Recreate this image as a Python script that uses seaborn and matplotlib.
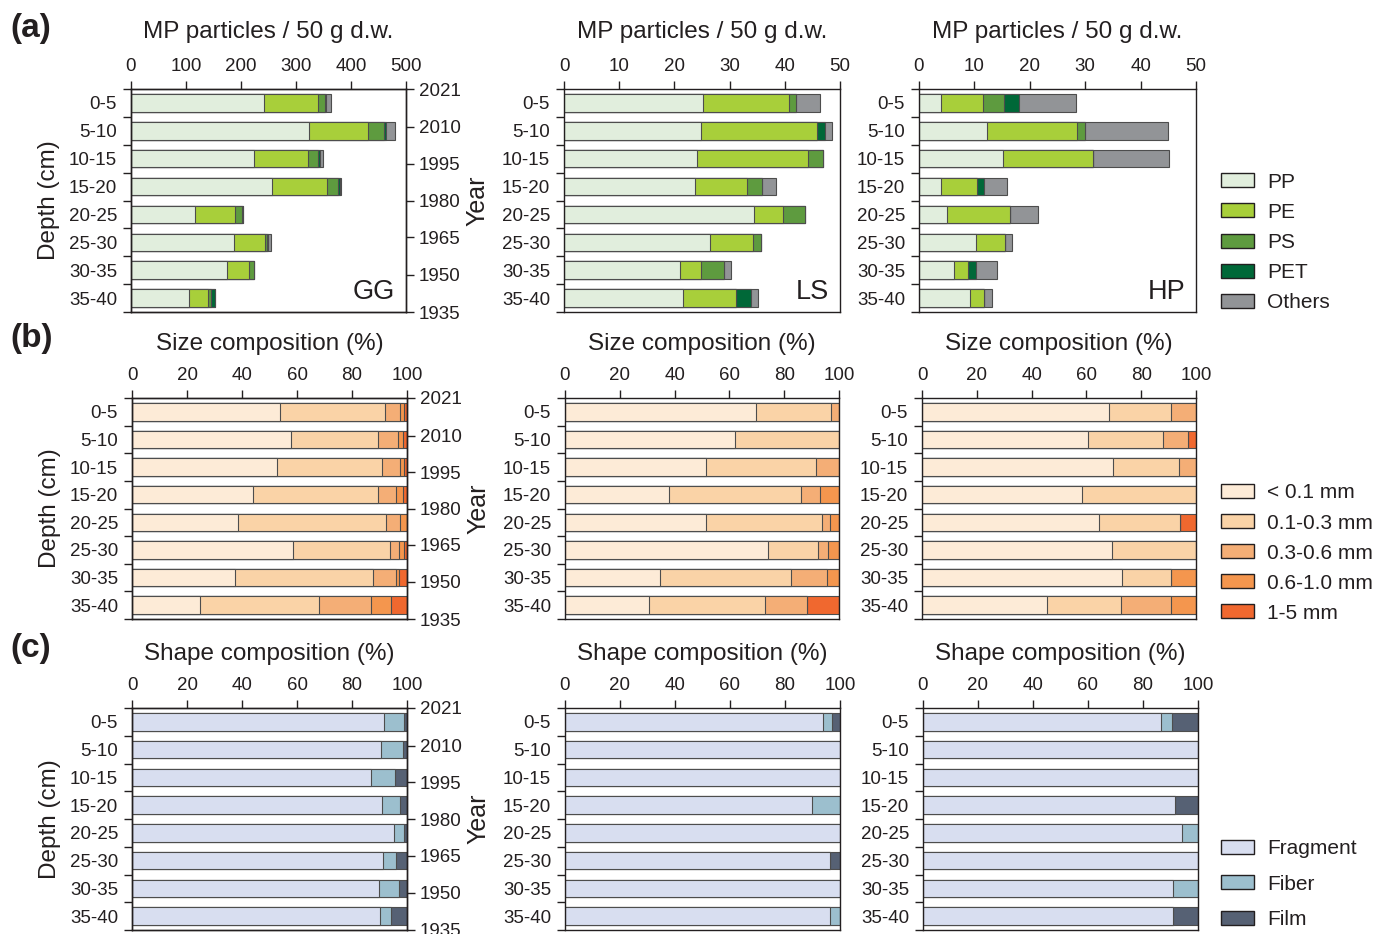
import numpy as np
import pandas as pd
import matplotlib
matplotlib.use("Agg")
import matplotlib.pyplot as plt
import seaborn as sns
from matplotlib.patches import Patch

sns.set_style("ticks")
plt.rcParams['font.family'] = ['Liberation Sans', 'DejaVu Sans']
ink = '#231f20'
plt.rcParams['text.color'] = ink
plt.rcParams['axes.labelcolor'] = ink
plt.rcParams['xtick.color'] = ink
plt.rcParams['ytick.color'] = ink
plt.rcParams['axes.edgecolor'] = ink

# ---- data ----
depths = ["0-5", "5-10", "10-15", "15-20", "20-25", "25-30", "30-35", "35-40"]
sites = ["GG", "LS", "HP"]

# dating of the core (year at depth in cm)
year_labels = [2021, 2010, 1995, 1980, 1965, 1950, 1935]
year_depth_cm = [0, 6.8, 13.4, 20.0, 26.6, 33.3, 40.0]

polymers = ["PP", "PE", "PS", "PET", "Others"]
polymer_colors = ["#e1eedd", "#a8cf3a", "#5e9b3f", "#006838", "#929497"]

# MP particles / 50 g d.w., rows: PP, PE, PS, PET, Others
gg_polymer = [
    [241, 324, 223, 257, 117, 187, 174, 106],
    [99, 107, 98, 100, 72, 57, 40, 34],
    [13, 29, 19, 20, 12, 4, 9, 6],
    [2, 3, 3, 3, 2, 1, 0, 7],
    [9, 17, 6, 2, 0, 5, 0, 0],
]
ls_polymer = [
    [25.2, 24.8, 24.1, 23.8, 34.4, 26.4, 21.0, 21.6],
    [15.5, 21.1, 20.1, 9.4, 5.2, 7.8, 3.9, 9.5],
    [1.3, 0, 2.7, 2.6, 4.0, 1.4, 4.0, 0],
    [0, 1.3, 0, 0, 0, 0, 0, 2.7],
    [4.3, 1.3, 0, 2.6, 0, 0, 1.3, 1.4],
]
hp_polymer = [
    [3.9, 12.3, 15.1, 3.9, 5.0, 10.3, 6.4, 9.2],
    [7.7, 16.3, 16.3, 6.6, 11.4, 5.2, 2.5, 2.6],
    [3.8, 1.3, 0, 0, 0, 0, 0, 0],
    [2.6, 0, 0, 1.3, 0, 0, 1.3, 0],
    [10.3, 15.0, 13.8, 4.0, 5.0, 1.3, 3.9, 1.4],
]

sizes = ["< 0.1 mm", "0.1-0.3 mm", "0.3-0.6 mm", "0.6-1.0 mm", "1-5 mm"]
size_colors = ["#fdebd7", "#fad3a7", "#f4ae76", "#f4964e", "#f0682f"]

gg_size = [
    [53.8, 57.8, 52.8, 44.1, 38.7, 58.6, 37.5, 24.6],
    [38.3, 31.5, 38.2, 45.3, 53.8, 35.3, 50.0, 43.5],
    [5.5, 7.3, 6.6, 6.6, 5.0, 3.1, 8.4, 18.7],
    [1.2, 1.8, 1.2, 2.7, 2.5, 1.9, 1.1, 7.4],
    [1.2, 1.6, 1.2, 1.3, 0, 1.1, 3.0, 5.8],
]
ls_size = [
    [69.7, 62.2, 51.5, 37.8, 51.5, 74.0, 34.6, 30.7],
    [27.3, 37.8, 40.0, 48.3, 42.3, 18.3, 47.9, 42.3],
    [3.0, 0, 8.5, 7.0, 2.9, 3.8, 13.2, 15.5],
    [0, 0, 0, 6.9, 3.3, 3.9, 4.3, 0],
    [0, 0, 0, 0, 0, 0, 0, 11.5],
]
hp_size = [
    [68.2, 60.6, 69.7, 58.3, 64.7, 69.2, 72.9, 45.5],
    [22.8, 27.2, 24.2, 41.7, 29.6, 30.8, 18.1, 27.2],
    [9.0, 9.4, 6.1, 0, 0, 0, 0, 18.3],
    [0, 0, 0, 0, 0, 0, 9.0, 9.0],
    [0, 2.8, 0, 0, 5.7, 0, 0, 0],
]

shapes = ["Fragment", "Fiber", "Film"]
shape_colors = ["#d8def0", "#9cbfce", "#566174"]

gg_shape = [
    [91.6, 90.7, 86.8, 91.0, 95.3, 91.1, 89.8, 90.0],
    [7.2, 7.8, 9.0, 6.6, 3.5, 5.0, 7.2, 4.3],
    [1.2, 1.5, 4.2, 2.4, 1.2, 3.9, 3.0, 5.7],
]
ls_shape = [
    [93.9, 100, 100, 89.9, 100, 96.4, 100, 96.4],
    [3.2, 0, 0, 10.1, 0, 0, 0, 3.6],
    [2.9, 0, 0, 0, 0, 3.6, 0, 0],
]
hp_shape = [
    [86.4, 100, 100, 91.5, 94.1, 100, 90.8, 90.8],
    [4.3, 0, 0, 0, 5.9, 0, 9.2, 0],
    [9.3, 0, 0, 8.5, 0, 0, 0, 9.2],
]

# ---- layout (pixels in a 1375x934 canvas) ----
W, H = 1375, 934
row_y = [(89, 312), (398, 619), (708, 930)]
col_x = [[(131, 406), (564, 840), (919, 1196)],
         [(132, 407), (565, 839), (922, 1196)],
         [(132, 407), (565, 840), (923, 1198)]]

edge = "#4d4d4d"
tick_fs = 13.5


def stacked(ax, parts, colors):
    cum = np.cumsum(np.array(parts, dtype=float), axis=0)
    for k in range(len(parts) - 1, -1, -1):
        df = pd.DataFrame({"depth": depths, "value": cum[k]})
        sns.barplot(data=df, x="value", y="depth", order=depths, orient="h",
                    color=colors[k], saturation=1, width=0.63, errorbar=None,
                    edgecolor=edge, linewidth=0.8, ax=ax)


def style_axes(ax, xmax, xstep, title, pad):
    ax.set_xlim(0, xmax)
    ax.set_ylim(7.5, -0.5)
    ax.xaxis.tick_top()
    ax.xaxis.set_label_position("top")
    ax.set_xticks(np.arange(0, xmax + 1e-9, xstep))
    ax.tick_params(axis="x", direction="out", length=6, width=1, pad=4, labelsize=tick_fs)
    ax.set_xlabel(title, fontsize=17.5, labelpad=pad)
    ax.set_yticks(np.arange(-0.5, 8, 1), labels=[""] * 9)
    ax.set_yticks(np.arange(8), labels=depths, minor=True)
    ax.tick_params(axis="y", which="major", direction="out", length=6, width=1)
    ax.tick_params(axis="y", which="minor", length=0, pad=10, labelsize=tick_fs)
    ax.set_ylabel("")
    for s in ax.spines.values():
        s.set_linewidth(1)
        s.set_visible(True)


fig = plt.figure(figsize=(W / 100, H / 100), dpi=100)

rows = [
    ([gg_polymer, ls_polymer, hp_polymer], polymer_colors, polymers, "MP particles / 50 g d.w."),
    ([gg_size, ls_size, hp_size], size_colors, sizes, "Size composition (%)"),
    ([gg_shape, ls_shape, hp_shape], shape_colors, shapes, "Shape composition (%)"),
]
panel_tags = ["(a)", "(b)", "(c)"]
title_pads = [14.5, 12.5, 12.5]
legend_anchor = [(1221, 172.5, 0.54), (1221, 483.5, 0.53), (1221, 839.5, 0.78)]

for r, (datasets, colors, names, title) in enumerate(rows):
    y0, y1 = row_y[r]
    for c, parts in enumerate(datasets):
        x0, x1 = col_x[r][c]
        ax = fig.add_axes([x0 / W, 1 - y1 / H, (x1 - x0) / W, (y1 - y0) / H])
        stacked(ax, parts, colors)
        if r == 0:
            style_axes(ax, 500 if c == 0 else 50, 100 if c == 0 else 10, title, title_pads[r])
            ax.text(0.96, 0.06, sites[c], transform=ax.transAxes, ha="right",
                    va="baseline", fontsize=19.5)
        else:
            style_axes(ax, 100, 20, title, title_pads[r])
        if c == 0:
            ax.set_ylabel("Depth (cm)", fontsize=17.5, labelpad=6.5)
            ax2 = ax.twinx()
            ax2.set_ylim(7.5, -0.5)
            ax2.set_yticks(np.array(year_depth_cm) / 5 - 0.5, labels=[str(y) for y in year_labels])
            ax2.tick_params(axis="y", direction="out", length=6, width=1, pad=3, labelsize=tick_fs)
            ax2.set_ylabel("Year", fontsize=18, labelpad=4)
            for s in ax2.spines.values():
                s.set_linewidth(1)
    fig.text(10 / W, 1 - (28 + 310 * r) / H, panel_tags[r], fontsize=24, fontweight="bold",
             va="center", ha="left")
    lx, ly, lsp = legend_anchor[r]
    handles = [Patch(facecolor=col, edgecolor=ink, linewidth=1, label=n) for col, n in zip(colors, names)]
    fig.legend(handles=handles, loc="upper left", bbox_to_anchor=(lx / W, 1 - ly / H),
               frameon=False, fontsize=15, handlelength=1.6, handleheight=0.65,
               handletextpad=0.6, labelspacing=lsp, borderpad=0, borderaxespad=0)

fig.savefig("out.png", dpi=100)
